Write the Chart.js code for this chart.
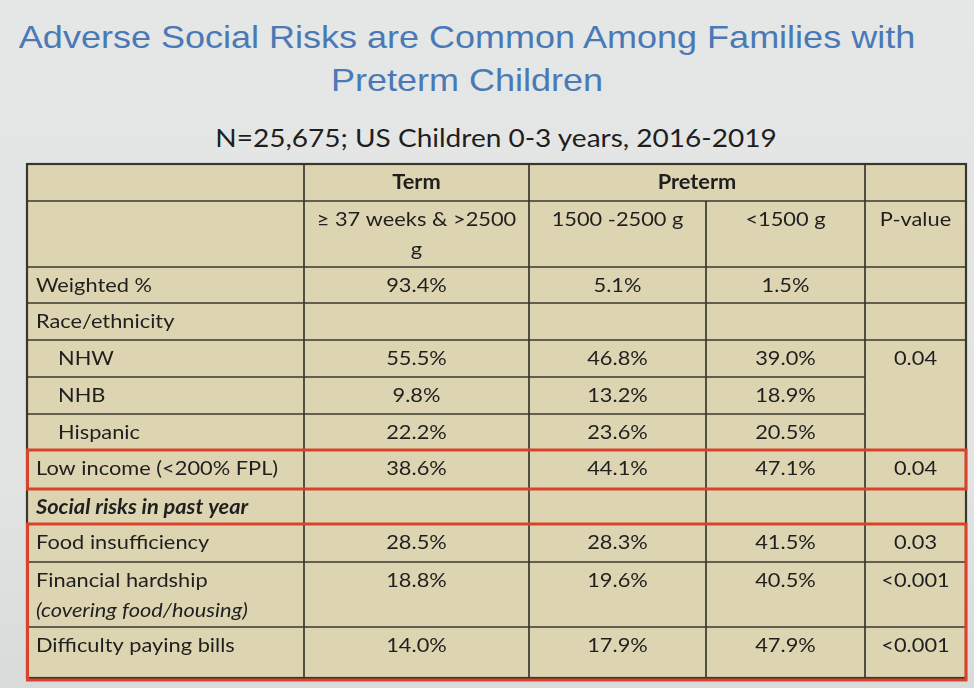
<!DOCTYPE html>
<html>
<head>
<meta charset="utf-8">
<script src="https://cdn.jsdelivr.net/npm/chart.js@4/dist/chart.umd.min.js"></script>
<style>
  html, body { margin: 0; padding: 0; }
  body {
    width: 974px; height: 688px; overflow: hidden; position: relative;
    background: linear-gradient(180deg, #e5e7e6 0%, #e2e4e3 70%, #d9dbda 100%);
  }
  .title {
    position: absolute; left: 0; width: 934px; text-align: center;
    font-family: "Liberation Sans", Arial, sans-serif; font-size: 32px;
    color: #4a79b6; line-height: 43px; top: 16px; margin: 0; font-weight: normal;
    transform: scaleX(1.125); transform-origin: 467px 0;
  }
  .subtitle {
    position: absolute; left: 0; width: 992px; text-align: center; top: 122px;
    font-family: "Lato", "Open Sans", sans-serif; font-size: 25px; color: #1e1e1e;
    transform: scaleX(1.12); transform-origin: 496px 0;
  }
  #wrap { position: absolute; left: 22px; top: 159px; width: 949px; height: 524px; }
</style>
</head>
<body>
<h1 class="title">Adverse Social Risks are Common Among Families with<br>Preterm Children</h1>
<div class="subtitle">N=25,675; US Children 0-3 years, 2016-2019</div>
<div id="wrap"><canvas id="c"></canvas></div>
<script>
// ---------------- DATA ----------------
const groupHeaders = ["Term", "Preterm"];
const columnHeaders = ["≥ 37 weeks & >2500 g", "1500 -2500 g", "<1500 g", "P-value"];
const rowLabels = ["Weighted %", "Race/ethnicity", "NHW", "NHB", "Hispanic",
  "Low income (<200% FPL)", "Social risks in past year", "Food insufficiency",
  "Financial hardship", "Difficulty paying bills"];
const rowNotes = ["", "", "", "", "", "", "", "", "(covering food/housing)", ""];
const termPct = [93.4, null, 55.5, 9.8, 22.2, 38.6, null, 28.5, 18.8, 14.0];
const preterm1500to2500Pct = [5.1, null, 46.8, 13.2, 23.6, 44.1, null, 28.3, 19.6, 17.9];
const pretermUnder1500Pct = [1.5, null, 39.0, 18.9, 20.5, 47.1, null, 41.5, 40.5, 47.9];
const pValues = ["", "", "0.04", "", "", "0.04", "", "0.03", "<0.001", "<0.001"];

// ---------------- LAYOUT (not data) ----------------
const colWidths = [277, 225, 177, 159, 101];
const headerHeights = [37, 66];
const bodyHeights = [36, 37, 37, 37, 36, 39, 35, 38, 65, 51];
const indentedRows = [2, 3, 4];
const boldItalicRows = [6];
const pMergeRows = [2, 3, 4];      // P-value cell spans these rows
const redBoxes = [[5, 5], [7, 9]]; // body row ranges outlined in red
const FONT = '"Lato", "Open Sans", sans-serif';
const TEXT_SIZE = 20;
const SX = 1.09; // horizontal stretch of the captured slide text
const LINE_COLOR = '#38382f';
const RED = '#d9432c';
const FILL = '#ddd4b2';

const colEdges = [0]; colWidths.forEach(w => colEdges.push(colEdges[colEdges.length - 1] + w));
const rowHeights = headerHeights.concat(bodyHeights);
const rowEdges = [0]; rowHeights.forEach(h => rowEdges.push(rowEdges[rowEdges.length - 1] + h));
const fmt = v => v == null ? "" : v.toFixed(1) + "%";

const tablePlugin = {
  id: 'tablePlugin',
  afterDraw(chart) {
    const ctx = chart.ctx, xs = chart.scales.x, ys = chart.scales.y;
    const X = v => xs.getPixelForValue(v), Y = v => ys.getPixelForValue(v);
    const W = colEdges[colEdges.length - 1], H = rowEdges[rowEdges.length - 1];
    ctx.save();
    ctx.fillStyle = FILL;
    ctx.fillRect(X(0), Y(0), X(W) - X(0), Y(H) - Y(0));

    ctx.strokeStyle = LINE_COLOR; ctx.lineWidth = 1.7;
    const hline = (r, c0, c1) => { ctx.beginPath(); ctx.moveTo(X(colEdges[c0]), Y(rowEdges[r])); ctx.lineTo(X(colEdges[c1]), Y(rowEdges[r])); ctx.stroke(); };
    const vline = (c, r0, r1) => { ctx.beginPath(); ctx.moveTo(X(colEdges[c]), Y(rowEdges[r0])); ctx.lineTo(X(colEdges[c]), Y(rowEdges[r1])); ctx.stroke(); };
    for (let r = 1; r < rowEdges.length - 1; r++) {
      const bodyIdx = r - headerHeights.length;
      if (pMergeRows.includes(bodyIdx) && pMergeRows.includes(bodyIdx - 1)) hline(r, 0, 4);
      else hline(r, 0, 5);
    }
    vline(1, 0, rowEdges.length - 1);
    vline(2, 0, rowEdges.length - 1);
    vline(3, 1, rowEdges.length - 1);
    vline(4, 0, rowEdges.length - 1);
    ctx.lineWidth = 2.2;
    ctx.strokeRect(X(0), Y(0), X(W) - X(0), Y(H) - Y(0));

    ctx.fillStyle = '#1f1f1f';
    ctx.textBaseline = 'middle';
    const txt = (s, x, y, align) => {
      ctx.save(); ctx.textAlign = align; ctx.translate(x, y); ctx.scale(SX, 1); ctx.fillText(s, 0, 0); ctx.restore();
    };
    const cx = c => (X(colEdges[c]) + X(colEdges[c + 1])) / 2;
    const ty = (r, line) => Y(rowEdges[r]) + 19 + (line || 0) * 30;
    ctx.font = `bold ${TEXT_SIZE}px ${FONT}`;
    txt(groupHeaders[0], cx(1), ty(0), 'center');
    txt(groupHeaders[1], (X(colEdges[2]) + X(colEdges[4])) / 2, ty(0), 'center');
    ctx.font = `${TEXT_SIZE}px ${FONT}`;
    columnHeaders.forEach((h, i) => {
      const c = i + 1;
      const maxW = (X(colEdges[c + 1]) - X(colEdges[c]) - 14) / SX;
      const words = h.split(' ');
      const lines = []; let cur = '';
      words.forEach(w => {
        const t = cur ? cur + ' ' + w : w;
        if (ctx.measureText(t).width > maxW && cur) { lines.push(cur); cur = w; } else cur = t;
      });
      lines.push(cur);
      lines.forEach((ln, k) => txt(ln, cx(c), ty(1, k), 'center'));
    });
    const valueCols = [termPct.map(fmt), preterm1500to2500Pct.map(fmt), pretermUnder1500Pct.map(fmt)];
    rowLabels.forEach((lab, i) => {
      const r = i + headerHeights.length;
      ctx.font = boldItalicRows.includes(i) ? `italic bold ${TEXT_SIZE}px ${FONT}` : `${TEXT_SIZE}px ${FONT}`;
      const lx = X(colEdges[0]) + (indentedRows.includes(i) ? 31 : 9);
      txt(lab, lx, ty(r), 'left');
      if (rowNotes[i]) { ctx.font = `italic ${TEXT_SIZE}px ${FONT}`; txt(rowNotes[i], lx, ty(r, 1), 'left'); }
      ctx.font = `${TEXT_SIZE}px ${FONT}`;
      valueCols.forEach((vals, k) => { if (vals[i]) txt(vals[i], cx(k + 1), ty(r), 'center'); });
      if (pValues[i]) txt(pValues[i], cx(4), ty(r), 'center');
    });

    ctx.strokeStyle = RED; ctx.lineWidth = 3;
    redBoxes.forEach(([a, b]) => {
      const r0 = a + headerHeights.length, r1 = b + headerHeights.length + 1;
      const y0 = Y(rowEdges[r0]), y1 = Y(rowEdges[r1]) + (r1 === rowEdges.length - 1 ? 2 : 0);
      ctx.strokeRect(X(0) + 0.5, y0, X(W) - X(0) - 0.5, y1 - y0);
    });
    ctx.restore();
  }
};

new Chart(document.getElementById('c'), {
  type: 'scatter',
  data: { datasets: [{ data: [] }] },
  options: {
    responsive: true, maintainAspectRatio: false, animation: false,
    layout: { padding: 5 },
    plugins: { legend: { display: false }, tooltip: { enabled: false } },
    scales: {
      x: { type: 'linear', display: false, min: 0, max: colEdges[colEdges.length - 1] },
      y: { type: 'linear', display: false, reverse: true, min: 0, max: rowEdges[rowEdges.length - 1] }
    }
  },
  plugins: [tablePlugin]
});
</script>
</body>
</html>
